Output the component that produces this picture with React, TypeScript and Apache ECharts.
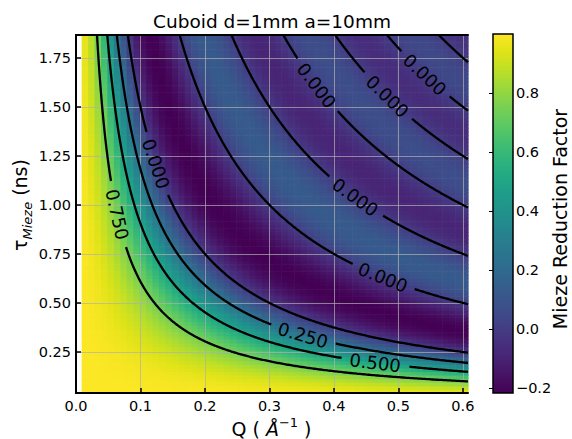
import React, { useEffect, useRef } from "react";
import * as echarts from "echarts";

const FONT = "DejaVu Sans";

// Mieze reduction factor against the product Q·τ (Å⁻¹·ns), one sample every PROFILE_STEP
const PROFILE_STEP = 0.01;
const reductionProfile = [
  1.0, 0.9927, 0.971, 0.9355, 0.8871, 0.827, 0.7568, 0.6784, 0.5936, 0.5046,
  0.4135, 0.3226, 0.2339, 0.1494, 0.0709, 0, -0.062, -0.1142, -0.1559, -0.1868,
  -0.2068, -0.2162, -0.2158, -0.2065, -0.1892, -0.1654, -0.1365, -0.1039, -0.0694, -0.0342,
  0, 0.032, 0.0607, 0.085, 0.1044, 0.1181, 0.1261, 0.1283, 0.125, 0.1164,
  0.1034, 0.0865, 0.0668, 0.0452, 0.0226, 0, -0.0216, -0.0413, -0.0585, -0.0724,
  -0.0827, -0.089, -0.0913, -0.0896, -0.0841, -0.0752, -0.0634, -0.0492, -0.0335, -0.0168,
  0, 0.0163, 0.0313, 0.0446, 0.0554, 0.0636, 0.0688, 0.0709, 0.0698, 0.0658,
  0.0591, 0.05, 0.039, 0.0266, 0.0134, 0, -0.0131, -0.0252, -0.036, -0.0449,
  -0.0517, -0.0561, -0.0579, -0.0572, -0.0541, -0.0487, -0.0413, -0.0323, -0.0221, -0.0112,
  0, 0.0109, 0.0211, 0.0302, 0.0378, 0.0435, 0.0473, 0.049, 0.0485, 0.0459,
  0.0414, 0.0351, 0.0275, 0.0189, 0.0096, 0, -0.0094, -0.0182, -0.026, -0.0326,
  -0.0376, -0.0409, -0.0424, -0.042, -0.0398,
];

// Cell grid of the map
const qExtent = [0.0088, 0.608];
const Q_CELLS = 60;
const tauExtent = [0.041, 1.866];
const TAU_CELLS = 100;

// Axes
const qAxisRange = [0, 0.608];
const qTicks = [0, 0.1, 0.2, 0.3, 0.4, 0.5, 0.6];
const tauTicks = [0.25, 0.5, 0.75, 1.0, 1.25, 1.5, 1.75];
const colorRange = [-0.217, 1.0];
const colorTicks = [-0.2, 0, 0.2, 0.4, 0.6, 0.8];
const contourLevels = [0.75, 0.5, 0.25, 0];

// Where each contour label sits (level, n-th branch of that level, Q)
const labelAnchors = [
  { level: 0.75, branch: 0, q: 0.064 },
  { level: 0.5, branch: 0, q: 0.464 },
  { level: 0.25, branch: 0, q: 0.352 },
  { level: 0, branch: 0, q: 0.124 },
  { level: 0, branch: 1, q: 0.476 },
  { level: 0, branch: 2, q: 0.433 },
  { level: 0, branch: 3, q: 0.373 },
  { level: 0, branch: 4, q: 0.483 },
  { level: 0, branch: 5, q: 0.541 },
];

const viridis = [
  "#440154", "#471365", "#482475", "#46337f", "#414487", "#3b528b", "#355f8d",
  "#2f6c8e", "#2a788e", "#25848e", "#21918c", "#1e9b8a", "#22a884", "#2fb47c",
  "#44bf70", "#5ec962", "#7ad151", "#9bd93c", "#bddf26", "#dfe318", "#fde725",
];

function reductionAt(qt: number): number {
  const f = qt / PROFILE_STEP;
  const i = Math.max(0, Math.min(Math.floor(f), reductionProfile.length - 2));
  const t = f - i;
  return reductionProfile[i] * (1 - t) + reductionProfile[i + 1] * t;
}

// Q·τ values at which the profile passes through a level
function levelCrossings(level: number): number[] {
  const out: number[] = [];
  for (let i = 1; i < reductionProfile.length; i++) {
    const a = reductionProfile[i - 1] - level;
    const b = reductionProfile[i] - level;
    if (b === 0) {
      out.push(i * PROFILE_STEP);
    } else if (a !== 0 && a * b < 0) {
      out.push((i - 1 + a / (a - b)) * PROFILE_STEP);
    }
  }
  return out;
}

const dq = (qExtent[1] - qExtent[0]) / Q_CELLS;
const dt = (tauExtent[1] - tauExtent[0]) / TAU_CELLS;

const cells: number[][] = [];
for (let i = 0; i < Q_CELLS; i++) {
  for (let j = 0; j < TAU_CELLS; j++) {
    const q = qExtent[0] + (i + 0.5) * dq;
    const t = tauExtent[0] + (j + 0.5) * dt;
    cells.push([q, t, reductionAt(q * t)]);
  }
}

// one item per contour branch: [Q·τ, level, label Q or -1]
const contours: number[][] = [];
contourLevels.forEach((level) => {
  levelCrossings(level).forEach((c, branch) => {
    const anchor = labelAnchors.find((a) => a.level === level && a.branch === branch);
    contours.push([c, level, anchor ? anchor.q : -1]);
  });
});

const GAP = 33;

function renderContour(params: any, api: any) {
  const c = api.value(0);
  const level = api.value(1);
  const lq = api.value(2);
  const qStart = Math.max(qExtent[0], c / tauExtent[1]);
  const qEnd = Math.min(qExtent[1], c / tauExtent[0]);
  if (qStart >= qEnd) return null;
  const N = 500;
  let center: number[] | null = null;
  let rotation = 0;
  if (lq > 0) {
    center = api.coord([lq, c / lq]);
    const a = api.coord([lq - 0.002, c / (lq - 0.002)]);
    const b = api.coord([lq + 0.002, c / (lq + 0.002)]);
    rotation = -Math.atan2(b[1] - a[1], b[0] - a[0]);
  }
  const segments: number[][][] = [];
  let cur: number[][] = [];
  for (let k = 0; k <= N; k++) {
    const q = qStart * Math.pow(qEnd / qStart, k / N);
    const p = api.coord([q, c / q]);
    if (center && Math.hypot(p[0] - center[0], p[1] - center[1]) < GAP) {
      if (cur.length > 1) segments.push(cur);
      cur = [];
    } else {
      cur.push(p);
    }
  }
  if (cur.length > 1) segments.push(cur);
  const children: any[] = segments.map((pts) => ({
    type: "polyline",
    shape: { points: pts },
    style: { stroke: "#000", lineWidth: 2.3, fill: null },
  }));
  if (center) {
    children.push({
      type: "text",
      x: center[0],
      y: center[1],
      rotation,
      style: {
        text: level.toFixed(3),
        fontSize: 18,
        fontFamily: FONT,
        fill: "#000",
        align: "center",
        verticalAlign: "middle",
      },
    });
  }
  return { type: "group", children };
}

const axisLabelStyle = { fontSize: 14.5, fontFamily: FONT, color: "#000" };

const option: any = {
  animation: false,
  textStyle: { fontFamily: FONT },
  grid: [
    { left: 76, top: 35, width: 392, height: 358, outerBoundsMode: "none" },
    { left: 493, top: 34, width: 20, height: 359, outerBoundsMode: "none" },
  ],
  visualMap: {
    type: "continuous",
    show: false,
    min: colorRange[0],
    max: colorRange[1],
    dimension: 2,
    seriesIndex: 0,
    inRange: { color: viridis },
  },
  xAxis: [
    {
      type: "value",
      gridIndex: 0,
      min: qAxisRange[0],
      max: qAxisRange[1],
      z: 2,
      axisLine: { show: true, lineStyle: { color: "#000", width: 2 } },
      axisTick: { show: true, inside: true, length: 5, customValues: qTicks, lineStyle: { color: "#000", width: 1.5 } },
      axisLabel: { ...axisLabelStyle, margin: 5, customValues: qTicks, formatter: (v: number) => v.toFixed(1) },
      splitLine: { show: true, lineStyle: { color: "rgba(176,176,176,0.7)", width: 1 } },
    },
    {
      type: "value",
      gridIndex: 0,
      position: "top",
      min: qAxisRange[0],
      max: qAxisRange[1],
      z: 4,
      axisLine: { show: true, lineStyle: { color: "#000", width: 2 } },
      axisTick: { show: false },
      axisLabel: { show: false },
      splitLine: { show: false },
    },
    {
      type: "value",
      gridIndex: 1,
      min: 0,
      max: 1,
      show: false,
    },
  ],
  yAxis: [
    {
      type: "value",
      gridIndex: 0,
      min: tauExtent[0],
      max: tauExtent[1],
      z: 2,
      axisLine: { show: true, lineStyle: { color: "#000", width: 2 } },
      axisTick: { show: true, inside: true, length: 5, customValues: tauTicks, lineStyle: { color: "#000", width: 1.5 } },
      axisLabel: { ...axisLabelStyle, margin: 5, customValues: tauTicks, formatter: (v: number) => v.toFixed(2) },
      splitLine: { show: true, lineStyle: { color: "rgba(176,176,176,0.7)", width: 1 } },
    },
    {
      type: "value",
      gridIndex: 0,
      position: "right",
      min: tauExtent[0],
      max: tauExtent[1],
      z: 4,
      axisLine: { show: true, lineStyle: { color: "#000", width: 2 } },
      axisTick: { show: false },
      axisLabel: { show: false },
      splitLine: { show: false },
    },
    {
      type: "value",
      gridIndex: 1,
      position: "right",
      min: colorRange[0],
      max: colorRange[1],
      z: 3,
      axisLine: { show: false },
      axisTick: { show: true, inside: true, length: 4, customValues: colorTicks, lineStyle: { color: "#000", width: 1 } },
      axisLabel: {
        ...axisLabelStyle,
        margin: 3,
        customValues: colorTicks,
        formatter: (v: number) => (v < 0 ? "\u2212" + Math.abs(v).toFixed(1) : v.toFixed(1)),
      },
      splitLine: { show: false },
    },
  ],
  series: [
    {
      type: "custom",
      name: "Mieze Reduction Factor",
      coordinateSystem: "cartesian2d",
      xAxisIndex: 0,
      yAxisIndex: 0,
      z: 1,
      silent: true,
      encode: { x: 0, y: 1 },
      data: cells,
      renderItem: (params: any, api: any) => {
        const q = api.value(0);
        const t = api.value(1);
        const p0 = api.coord([q - dq / 2, t + dt / 2]);
        const p1 = api.coord([q + dq / 2, t - dt / 2]);
        return {
          type: "rect",
          shape: { x: p0[0], y: p0[1], width: p1[0] - p0[0] + 0.6, height: p1[1] - p0[1] + 0.6 },
          style: { fill: api.visual("color") },
        };
      },
    },
    {
      type: "custom",
      name: "contours",
      coordinateSystem: "cartesian2d",
      xAxisIndex: 0,
      yAxisIndex: 0,
      z: 3,
      silent: true,
      encode: { x: 0, y: 1 },
      data: contours,
      renderItem: renderContour,
    },
    {
      type: "custom",
      name: "colorbar",
      coordinateSystem: "cartesian2d",
      xAxisIndex: 2,
      yAxisIndex: 2,
      z: 1,
      silent: true,
      data: [[0, colorRange[0], 1, colorRange[1]]],
      renderItem: (params: any, api: any) => {
        const p0 = api.coord([api.value(0), api.value(3)]);
        const p1 = api.coord([api.value(2), api.value(1)]);
        const stops = viridis
          .slice()
          .reverse()
          .map((color, i, arr) => ({ offset: i / (arr.length - 1), color }));
        return {
          type: "rect",
          shape: { x: p0[0], y: p0[1], width: p1[0] - p0[0], height: p1[1] - p0[1] },
          style: {
            fill: new echarts.graphic.LinearGradient(0, 0, 0, 1, stops),
            stroke: "#000",
            lineWidth: 1.5,
          },
        };
      },
    },
  ],
  graphic: [
    {
      type: "text",
      x: 272,
      y: 21.5,
      style: {
        text: "Cuboid d=1mm a=10mm",
        fontSize: 18.5,
        fontFamily: FONT,
        fill: "#000",
        align: "center",
        verticalAlign: "middle",
      },
    },
    {
      type: "text",
      x: 271.5,
      y: 427,
      style: {
        text: "{m|Q ( }{i|\u00c5}{p|\u22121}{m| )}",
        align: "center",
        verticalAlign: "middle",
        rich: {
          m: { fontSize: 19, fontFamily: FONT, fill: "#000", verticalAlign: "bottom" },
          i: { fontSize: 19, fontFamily: FONT, fontStyle: "italic", fill: "#000", verticalAlign: "bottom" },
          p: { fontSize: 13, fontFamily: FONT, fill: "#000", verticalAlign: "bottom", padding: [0, 0, 9, 0] },
        },
      },
    },
    {
      type: "text",
      x: 22,
      y: 205,
      rotation: Math.PI / 2,
      style: {
        text: "{m|\u03c4}{s|Mieze}{m| (ns)}",
        align: "center",
        verticalAlign: "middle",
        rich: {
          m: { fontSize: 19, fontFamily: FONT, fill: "#000", verticalAlign: "bottom", padding: [0, 0, 4, 0] },
          s: { fontSize: 13, fontFamily: FONT, fontStyle: "italic", fill: "#000", verticalAlign: "bottom" },
        },
      },
    },
    {
      type: "text",
      x: 560,
      y: 219,
      rotation: Math.PI / 2,
      style: {
        text: "Mieze Reduction Factor",
        fontSize: 19,
        fontFamily: FONT,
        fill: "#000",
        align: "center",
        verticalAlign: "middle",
      },
    },
  ],
};

export default function App() {
  const ref = useRef<HTMLDivElement>(null);
  useEffect(() => {
    if (!ref.current) return;
    const chart = echarts.init(ref.current, null, { renderer: "svg" });
    chart.setOption(option);
    return () => chart.dispose();
  }, []);
  return (
    <div
      ref={ref}
      style={{ position: "fixed", left: 0, top: 0, width: 572, height: 439, background: "#fff" }}
    />
  );
}
